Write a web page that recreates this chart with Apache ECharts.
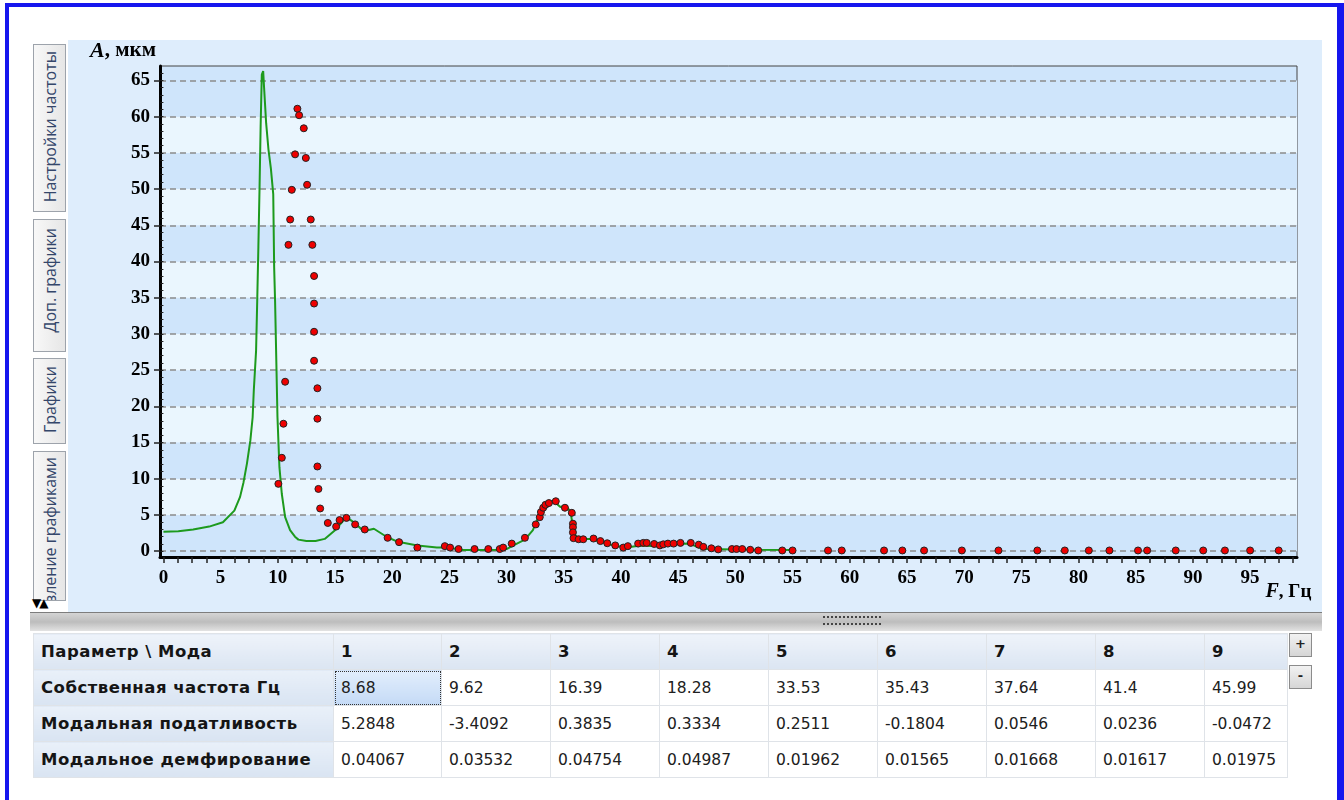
<!DOCTYPE html>
<html>
<head>
<meta charset="utf-8">
<script src="https://cdn.jsdelivr.net/npm/echarts@6/dist/echarts.min.js"></script>
<style>
  body { margin: 0; width: 1344px; height: 800px; background: #fff; overflow: hidden; position: relative; font-family: 'DejaVu Sans', sans-serif; }
  #frame { position: absolute; left: 5px; top: 3px; width: 1339px; height: 830px; box-sizing: border-box;
    border-left: 4px solid #1616ee; border-top: 4px solid #1616ee; border-right: 7px solid #1616ee; }
  .tab { position: absolute; left: 33px; width: 33px; overflow: hidden; box-sizing: border-box;
    border: 1px solid #9da3ab; background: linear-gradient(to right, #f8f8f8, #e6e6e6); }
  .tab span { position: absolute; left: 5px; writing-mode: vertical-rl; transform: rotate(180deg);
    font-family: 'Open Sans', sans-serif; font-size: 16px; color: #34466a; white-space: nowrap; }
  #arrows { position: absolute; left: 32px; top: 597px; font-size: 12px; line-height: 12px; color: #000; letter-spacing: -2px; }
  #chart { position: absolute; left: 68px; top: 40px; width: 1254px; height: 572px; background: #deedfc; }
  #splitter { position: absolute; left: 30px; top: 612px; width: 1292px; height: 19px; box-sizing: border-box;
    border-top: 1px solid #7d7d7d; background: linear-gradient(#d4d4d4, #bdbdbd 50%, #e2e2e2); }
  .grip { position: absolute; left: 793px; width: 58px; height: 0; border-top: 2px dotted #444; }
  table { position: absolute; left: 33px; top: 633px; border-collapse: collapse; table-layout: fixed; width: 1254px; }
  td { height: 35px; padding: 0 0 0 7px; border: 1px solid #dfe3e8; font-size: 15.5px; color: #202020; white-space: nowrap; overflow: hidden; }
  tr.head td { background: linear-gradient(#eef3fa, #dbe5f2); font-weight: bold; font-size: 16.5px; letter-spacing: 0.5px; color: #151515; }
  td.lab { background: linear-gradient(#e9f0f9, #d9e4f2); font-weight: bold; font-size: 16.5px; letter-spacing: 0.5px; color: #151515; }
  td.sel { background: linear-gradient(#e2eefc, #c4daf6); outline: 1px dotted #333; outline-offset: -2px; }
  .btn { position: absolute; left: 1289px; width: 23px; height: 24px; box-sizing: border-box; border: 1px solid #8c8c8c;
    background: linear-gradient(#f2f2f2, #d6d6d6); font: bold 13px 'DejaVu Sans'; text-align: center; line-height: 20px; color: #222; }
</style>
</head>
<body>
<div id="frame"></div>
<div class="tab" style="top:44px;height:168px;"><span style="top:6px;">Настройки частоты</span></div>
<div class="tab" style="top:219px;height:133px;"><span style="top:8px;">Доп. графики</span></div>
<div class="tab" style="top:358px;height:86px;"><span style="top:7px;">Графики</span></div>
<div class="tab" style="top:451px;height:150px;"><span style="top:5px;">Управление графиками</span></div>
<div id="arrows">▼▲</div>
<div id="chart"></div>
<div id="splitter"><div class="grip" style="top:3px;"></div><div class="grip" style="top:10px;"></div></div>
<table id="params"></table>
<div class="btn" style="top:633px;">+</div>
<div class="btn" style="top:665px;">-</div>
<script>
// расчётная АЧХ (зелёная линия)
const lineF = [0, 1.3, 2.6, 4.0, 5.2, 6.2, 6.7, 7.0, 7.3, 7.6, 7.8, 7.9, 8.1, 8.2, 8.3, 8.4, 8.5, 8.6, 8.72, 8.8,
  8.98, 9.18, 9.39, 9.6, 9.68, 9.76, 9.85, 9.97, 10.14, 10.35, 10.64, 11.07, 11.5, 11.8, 12.5, 13.3, 14.1, 15.0, 15.6, 16.0,
  16.8, 17.5, 18.4, 19.5, 20.5, 22.2, 23.9, 25.1, 25.9, 28.3, 29.4, 30.0, 30.6, 31.6, 32.3, 32.9, 33.4, 33.8, 34.2, 34.7,
  35.2, 35.6, 35.8, 36.0, 36.4, 37.3, 38.2, 39.3, 40.5, 41.7, 43.1, 44.9, 46.0, 46.8, 47.5, 50.0, 52.0, 55.0];
const lineA = [2.7, 2.75, 3.0, 3.4, 4.0, 5.6, 7.5, 9.5, 12.1, 15.3, 18.5, 22.2, 27.7, 34.6, 42.0, 50.0, 58.9, 65.8, 66.3, 64.0,
  59.1, 55.5, 52.9, 49.3, 39.2, 34.6, 27.7, 18.5, 11.6, 7.9, 4.7, 2.9, 2.0, 1.6, 1.4, 1.4, 1.7, 2.9, 4.0, 4.7,
  3.8, 2.75, 3.1, 2.0, 1.3, 0.8, 0.5, 0.5, 0.15, 0.15, 0.2, 0.3, 0.8, 1.6, 2.9, 5.2, 6.6, 6.9, 6.8, 6.1,
  6.3, 5.4, 3.3, 2.2, 1.7, 1.7, 1.3, 0.8, 0.5, 0.8, 0.7, 1.0, 1.05, 0.5, 0.3, 0.25, 0.2, 0.15];

// экспериментальные точки (красные маркеры)
const pointF = [10.05, 10.35, 10.49, 10.64, 10.93, 11.08, 11.22, 11.51, 11.71, 11.86, 12.27, 12.45, 12.56, 12.88, 13.02,
  13.17, 13.17, 13.17, 13.17, 13.46, 13.46, 13.46, 13.55, 13.7, 14.37, 15.1, 15.4, 16.0, 16.76, 17.6,
  19.6, 20.6, 22.2, 24.6, 25.06, 25.8, 27.2, 28.4, 29.4, 29.7, 30.45, 31.6, 32.55, 32.9, 33.0,
  33.2, 33.4, 33.7, 34.3, 35.1, 35.7, 35.8, 35.8, 35.8, 35.85, 36.3, 36.7, 37.6, 38.2, 38.8,
  39.5, 40.2, 40.6, 41.5, 41.95, 42.25, 42.9, 43.4, 43.7, 44.1, 44.6, 45.2, 46.1, 46.8, 47.2,
  47.9, 48.5, 49.7, 50.1, 50.6, 51.3, 52.0, 54.1, 55.0, 58.1, 59.3, 63.0, 64.6, 66.5, 69.8,
  73.0, 76.4, 78.8, 80.9, 82.7, 85.2, 86.0, 88.5, 90.9, 92.8, 95.0, 97.5];
const pointA = [9.3, 12.9, 17.6, 23.4, 42.3, 45.8, 49.9, 54.8, 61.1, 60.2, 58.4, 54.3, 50.6, 45.8, 42.3,
  38.0, 34.2, 30.3, 26.3, 22.5, 18.3, 11.7, 8.6, 5.9, 3.9, 3.4, 4.3, 4.6, 3.7, 3.0,
  1.85, 1.25, 0.5, 0.7, 0.5, 0.3, 0.3, 0.3, 0.3, 0.5, 1.05, 1.85, 3.7, 4.7, 5.4,
  6.0, 6.4, 6.65, 6.9, 6.0, 5.3, 3.8, 3.3, 2.6, 1.8, 1.65, 1.65, 1.75, 1.4, 1.1,
  0.8, 0.5, 0.7, 1.05, 1.15, 1.15, 1.0, 0.8, 0.95, 1.05, 1.05, 1.15, 1.15, 0.9, 0.6,
  0.4, 0.25, 0.3, 0.3, 0.3, 0.2, 0.1, 0.1, 0.1, 0.1, 0.1, 0.1, 0.1, 0.1, 0.1,
  0.1, 0.1, 0.1, 0.1, 0.1, 0.1, 0.1, 0.1, 0.1, 0.1, 0.1, 0.1];

// подписи осей
const xTicks = [0, 5, 10, 15, 20, 25, 30, 35, 40, 45, 50, 55, 60, 65, 70, 75, 80, 85, 90, 95];
const yTicks = [0, 5, 10, 15, 20, 25, 30, 35, 40, 45, 50, 55, 60, 65];

// таблица мод
const modes = ['1', '2', '3', '4', '5', '6', '7', '8', '9'];
const natFreq = ['8.68', '9.62', '16.39', '18.28', '33.53', '35.43', '37.64', '41.4', '45.99'];
const compliance = ['5.2848', '-3.4092', '0.3835', '0.3334', '0.2511', '-0.1804', '0.0546', '0.0236', '-0.0472'];
const damping = ['0.04067', '0.03532', '0.04754', '0.04987', '0.01962', '0.01565', '0.01668', '0.01617', '0.01975'];

// строим таблицу
var colW = [300, 108, 109, 109, 109, 109, 109, 109, 109, 83];
var html = '<colgroup>' + colW.map(function (w) { return '<col style="width:' + w + 'px">'; }).join('') + '</colgroup>';
html += '<tr class="head"><td>Параметр \\ Мода</td>' + modes.map(function (m) { return '<td>' + m + '</td>'; }).join('') + '</tr>';
var rows = [['Собственная частота Гц', natFreq], ['Модальная податливость', compliance], ['Модальное демфирование', damping]];
rows.forEach(function (r, ri) {
  html += '<tr><td class="lab">' + r[0] + '</td>' + r[1].map(function (v, i) {
    return '<td' + (ri === 0 && i === 0 ? ' class="sel"' : '') + '>' + v + '</td>';
  }).join('') + '</tr>';
});
document.getElementById('params').innerHTML = html;

// вспомогательные деления
var xMinor = Array.from({ length: 80 }, function (_, i) { return i * 1.25; });
var yMinor = Array.from({ length: 67 }, function (_, i) { return i; });

var chart = echarts.init(document.getElementById('chart'));
var numFont = { fontFamily: 'Liberation Serif', fontWeight: 'bold', fontSize: 19, color: '#000' };

var option = {
  animation: false,
  grid: { left: 92, top: 24, right: 25, bottom: 55, show: true, borderColor: '#444', borderWidth: 1, backgroundColor: '#cfe5fb' },
  xAxis: [{
    type: 'value', min: -0.3, max: 99.1, splitNumber: 20,
    name: '{i|F}{b|, Гц}', nameLocation: 'end', nameGap: 4,
    nameTextStyle: { align: 'right', verticalAlign: 'top', padding: [25, 0, 0, 0],
      rich: { i: { fontFamily: 'Liberation Serif', fontStyle: 'italic', fontWeight: 'bold', fontSize: 20, color: '#000' },
              b: { fontFamily: 'Liberation Serif', fontWeight: 'bold', fontSize: 19, color: '#000' } } },
    axisLine: { onZero: false, lineStyle: { color: '#000', width: 3 } },
    axisTick: { show: true, customValues: xMinor, length: 6, lineStyle: { color: '#222', width: 1.5 } },
    axisLabel: Object.assign({ customValues: xTicks, margin: 12 }, numFont),
    splitLine: { show: false }
  }],
  yAxis: [{
    type: 'value', min: -0.8, max: 67, splitNumber: 14,
    name: '{i|A}{b|, мкм}', nameLocation: 'end', nameGap: 4,
    nameTextStyle: { align: 'right', verticalAlign: 'bottom', padding: [0, 4, 0, 0],
      rich: { i: { fontFamily: 'Liberation Serif', fontStyle: 'italic', fontWeight: 'bold', fontSize: 22, color: '#000' },
              b: { fontFamily: 'Liberation Serif', fontWeight: 'bold', fontSize: 21, color: '#000' } } },
    axisLine: { onZero: false, lineStyle: { color: '#000', width: 3 } },
    axisTick: { show: true, customValues: yTicks, length: 6, lineStyle: { color: '#222', width: 1.5 } },
    axisLabel: Object.assign({ customValues: yTicks, margin: 10 }, numFont),
    splitLine: { show: true, lineStyle: { color: '#8c8c8c', type: [6, 4], width: 1.5 } },
    splitArea: { show: true, areaStyle: { color: ['#cfe5fb', '#eaf6fe'] } }
  }, {
    type: 'value', min: -0.8, max: 67, position: 'left',
    axisLine: { show: false },
    axisTick: { show: true, customValues: yMinor, length: 3, lineStyle: { color: '#222' } },
    axisLabel: { show: false },
    splitLine: { show: false }
  }],
  series: [{
    type: 'line',
    data: lineF.map(function (f, i) { return [f, lineA[i]]; }),
    showSymbol: false,
    lineStyle: { color: '#1d9a1d', width: 2 },
    z: 2
  }, {
    type: 'scatter',
    data: pointF.map(function (f, i) { return [f, pointA[i]]; }),
    symbolSize: 7,
    itemStyle: { color: '#ee0000', borderColor: '#222', borderWidth: 1, opacity: 1 },
    z: 3
  }]
};
chart.setOption(option);
</script>
</body>
</html>
